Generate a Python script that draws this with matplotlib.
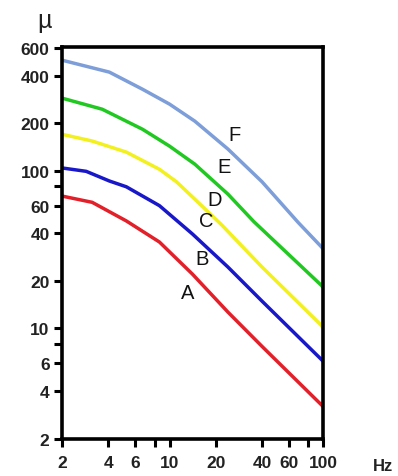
import numpy as np
import matplotlib.pyplot as plt
from matplotlib.ticker import FixedLocator, NullLocator

# curves: frequency (Hz) and value
freq_a = [2, 3.14, 5.24, 8.6, 14.1, 24, 40, 100]
val_a = [69, 63, 48, 35.3, 22.1, 12.7, 7.7, 3.2]

freq_b = [2, 2.87, 4.06, 5.24, 8.6, 14.1, 24, 40, 100]
val_b = [104, 99, 86, 79, 60, 39.7, 24.5, 14.9, 6.2]

freq_d = [2, 3.14, 5.24, 8.6, 11.1, 14.6, 21.9, 40, 100]
val_d = [170, 154, 131, 102, 85, 66, 45.2, 24.5, 10.2]

freq_e = [2, 3.65, 6.67, 10, 14.6, 24, 35.4, 100]
val_e = [288, 245, 183, 143, 110, 71, 47.5, 18.3]

freq_f = [2, 4.06, 6.67, 10, 14.6, 24, 40, 68.7, 100]
val_f = [501, 421, 328, 264, 206, 137, 85, 47, 32]

colors = ["#e2202a", "#1818c8", "#f2f01e", "#22c822", "#7d9ed8"]

# label positions (Hz, value)
labels = ["A", "B", "C", "D", "E", "F"]
label_x = [13.1, 16.2, 17.4, 19.6, 22.8, 26.6]
label_y = [17, 27.6, 48, 66, 106, 170]

plt.rcParams['font.family'] = ['Liberation Sans', 'DejaVu Sans']

fig = plt.figure(figsize=(3.98, 4.77), dpi=100)
ax = fig.add_axes([0.156, 0.078, 0.656, 0.822])

curves = [(freq_a, val_a), (freq_b, val_b), (freq_d, val_d), (freq_e, val_e), (freq_f, val_f)]
for (xs, ys), c in zip(curves, colors):
    ax.plot(xs, ys, color=c, lw=2.5, solid_capstyle='round', solid_joinstyle='round')

for t, lx, ly in zip(labels, label_x, label_y):
    ax.text(lx, ly, t, fontsize=14.5, ha='center', va='center', color='#111111')

ax.set_xscale('log')
ax.set_yscale('log')
ax.set_xlim(2, 100)
ax.set_ylim(2, 610)

yt = [2, 4, 6, 8, 10, 20, 40, 60, 80, 100, 200, 400, 600]
ax.yaxis.set_major_locator(FixedLocator(yt))
ax.yaxis.set_minor_locator(NullLocator())
ax.set_yticklabels(['' if v in (8, 80) else str(v) for v in yt])

xt = [2, 4, 6, 8, 10, 20, 40, 60, 80, 100]
ax.xaxis.set_major_locator(FixedLocator(xt))
ax.xaxis.set_minor_locator(NullLocator())
ax.set_xticklabels(['' if v in (8, 80) else str(v) for v in xt])

for s in ax.spines.values():
    s.set_linewidth(2.6)
ax.tick_params(length=6, width=2.2, labelsize=12.5)
ax.tick_params(axis='x', pad=6)
ax.tick_params(axis='y', pad=3)
for lab in ax.get_xticklabels() + ax.get_yticklabels():
    lab.set_fontweight('bold')
    lab.set_color('#222222')

fig.text(0.113, 0.955, "µ", fontsize=18, ha='center', va='center', color='#222222')
fig.text(0.962, 0.023, "Hz", fontsize=12, fontweight='bold', ha='center', va='center', color='#222222')

plt.savefig('out.png')
